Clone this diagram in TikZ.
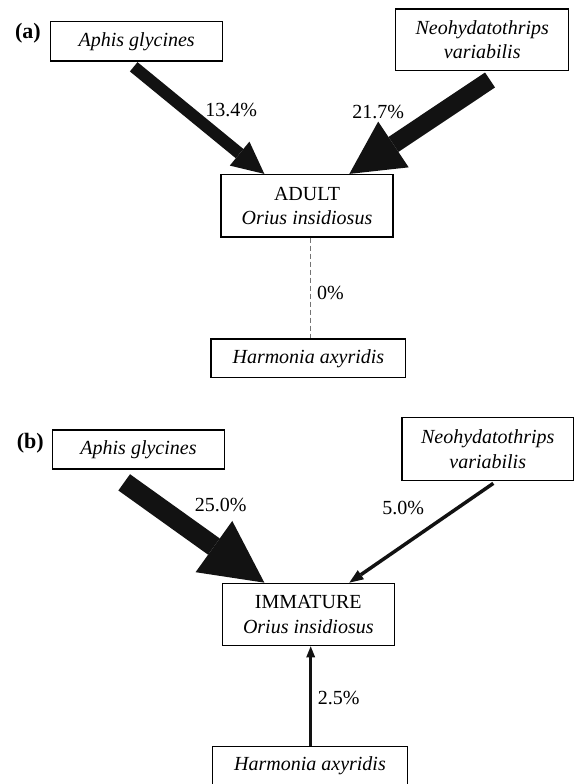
\documentclass[tikz,border=0pt]{standalone}
\usepackage{fontspec}
\setmainfont{Liberation Serif}
\usetikzlibrary{arrows.meta,calc}
\begin{document}
\begin{tikzpicture}[x=1pt,y=-1pt,
  box/.style={draw=black, line width=1.3pt, inner sep=0pt, align=center,
    font=\fontsize{20}{24.5}\selectfont\itshape},
  pct/.style={inner sep=0pt, font=\fontsize{20}{24}\selectfont},
  panel/.style={inner sep=0pt, font=\fontsize{22}{26}\selectfont\bfseries},
  flow/.style={draw=black!93, line cap=butt},
  faint/.style={draw=black!55, line width=0.9pt, dash pattern=on 5pt off 3pt}
]
\useasboundingbox (0,0) rectangle (576,784);

% ---------- panel (a)
\node[panel] (pa) at (28,33) {(a)};
\node[box, minimum width=172pt, minimum height=39.3pt] (aphisA) at (136.7,41.3) {Aphis glycines};
\node[box, minimum width=173.2pt, minimum height=61.7pt] (neoA) at (482.2,39.9) {Neohydatothrips\\variabilis};
\node[box, minimum width=172pt, minimum height=62.5pt] (adultA) at (307,205.8) {{\upshape ADULT}\\Orius insidiosus};
\node[box, minimum width=194.7pt, minimum height=38.7pt] (harmA) at (308.4,358.4) {Harmonia axyridis};

\node[pct] (l1) at (231.3,110) {13.4\%};
\node[pct] (l2) at (378.3,111.7) {21.7\%};
\node[pct] (l3) at (330.5,293.3) {0\%};

\draw[flow, line width=12pt, -{Triangle[width=31pt,length=32pt,line width=0pt]}]
  ($(aphisA.south)+(-3,5.2)$) -- ($(adultA.north west)+(44,0)$);
\draw[flow, line width=18pt, -{Triangle[width=55pt,length=53pt,line width=0pt]}]
  ($(neoA.south)+(7.8,8.6)$) -- ($(adultA.north west)+(129,0)$);
\draw[faint] ($(adultA.south)+(3.7,0)$) -- ($(harmA.north)+(2.3,0)$);

% ---------- panel (b)
\node[panel] (pb) at (30.3,443) {(b)};
\node[box, minimum width=171.7pt, minimum height=39pt] (aphisB) at (138.5,449.5) {Aphis glycines};
\node[box, minimum width=171.7pt, minimum height=63pt] (neoB) at (487.7,449.2) {Neohydatothrips\\variabilis};
\node[box, minimum width=172pt, minimum height=62.4pt] (immB) at (308.3,614.5) {{\upshape IMMATURE}\\Orius insidiosus};
\node[box, minimum width=194.7pt, minimum height=39pt] (harmB) at (310,766.2) {Harmonia axyridis};

\node[pct] (l4) at (220.7,505) {25.0\%};
\node[pct] (l5) at (403.3,508.3) {5.0\%};
\node[pct] (l6) at (338.7,698) {2.5\%};

\draw[flow, line width=20pt, -{Triangle[width=63pt,length=62pt,line width=0pt]}]
  ($(aphisB.south)+(-14.3,12.7)$) -- ($(immB.north west)+(42.7,0)$);
\draw[flow, line width=3.5pt, -{Triangle[width=11pt,length=14pt,line width=0pt]}]
  ($(neoB.south)+(5.6,2)$) -- ($(immB.north west)+(127.7,0)$);
\draw[flow, line width=2.5pt, -{Triangle[width=9pt,length=11pt,line width=0pt]}]
  ($(harmB.north)+(0.7,0)$) -- ($(immB.south)+(2.4,0)$);
\end{tikzpicture}
\end{document}
